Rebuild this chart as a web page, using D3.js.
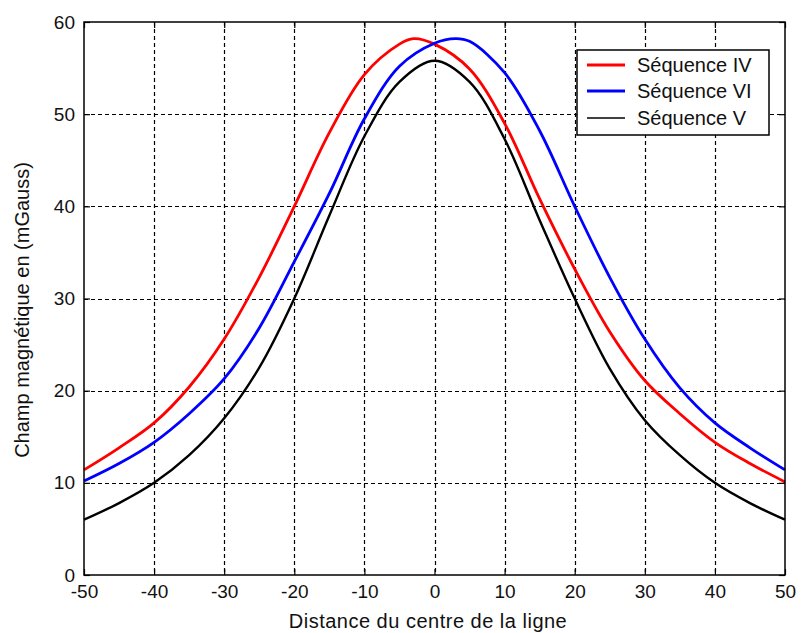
<!DOCTYPE html>
<html>
<head>
<meta charset="utf-8">
<script src="https://cdn.jsdelivr.net/npm/d3@7"></script>
<style>
  html, body { margin: 0; padding: 0; background: #fff; }
  svg { display: block; font-family: Arial, "Liberation Sans", sans-serif; }
</style>
</head>
<body>
<svg id="chart" width="801" height="633"></svg>
<script>
// Magnetic field profiles across the line, three sequences (mGauss vs distance)
const distIV = [-50, -45, -40, -35, -30, -25, -20, -15, -10, -5, -3, 0, 5, 10, 15, 20, 25, 30, 35, 40, 45, 50];
const seqIV  = [11.4, 13.8, 16.5, 20.4, 25.6, 32.3, 40.0, 48.0, 54.3, 57.6, 58.2, 57.6, 54.9, 49.0, 40.8, 33.2, 26.4, 21.1, 17.5, 14.4, 12.1, 10.1];

const distVI = [-50, -45, -40, -35, -30, -25, -20, -15, -10, -5, 0, 3, 5, 10, 15, 20, 25, 30, 35, 40, 45, 50];
const seqVI  = [10.2, 12.1, 14.4, 17.5, 21.3, 26.8, 34.0, 41.4, 49.5, 55.2, 57.7, 58.2, 57.9, 54.5, 48.2, 40.0, 32.3, 25.6, 20.3, 16.5, 13.8, 11.4];

const distV = [-50, -45, -40, -35, -30, -25, -20, -15, -10, -5, 0, 5, 10, 15, 20, 25, 30, 35, 40, 45, 50];
const seqV  = [6.0, 7.8, 10.0, 13.0, 17.0, 22.5, 30.0, 39.0, 47.6, 53.5, 55.8, 53.5, 47.3, 38.5, 30.0, 22.4, 16.8, 13.0, 10.0, 7.8, 6.0];

const xTicks = [-50, -40, -30, -20, -10, 0, 10, 20, 30, 40, 50];
const yTicks = [0, 10, 20, 30, 40, 50, 60];

const seriesNames  = ["Séquence IV", "Séquence VI", "Séquence V"];
const seriesColors = ["#ff0000", "#0000ff", "#000000"];

const xLabel = "Distance du centre de la ligne";
const yLabel = "Champ magnétique en (mGauss)";

const svg = d3.select("#chart");
const plot = { left: 84, right: 785, top: 22, bottom: 575 };

const x = d3.scaleLinear().domain([-50, 50]).range([plot.left, plot.right]);
const y = d3.scaleLinear().domain([0, 60]).range([plot.bottom, plot.top]);

// dashed grid
const grid = svg.append("g");
grid.selectAll("line.gx").data(xTicks.slice(1, -1)).enter().append("line")
  .attr("x1", d => Math.round(x(d)) + 0.5).attr("x2", d => Math.round(x(d)) + 0.5)
  .attr("y1", plot.top).attr("y2", plot.bottom)
  .attr("stroke", "#000").attr("stroke-width", 1.2).attr("stroke-dasharray", "4,3");
grid.selectAll("line.gy").data(yTicks.slice(1, -1)).enter().append("line")
  .attr("y1", d => Math.round(y(d)) + 0.5).attr("y2", d => Math.round(y(d)) + 0.5)
  .attr("x1", plot.left).attr("x2", plot.right)
  .attr("stroke", "#000").attr("stroke-width", 1.2).attr("stroke-dasharray", "4,3");

// curves
const data = [
  distIV.map((d, i) => [d, seqIV[i]]),
  distVI.map((d, i) => [d, seqVI[i]]),
  distV.map((d, i) => [d, seqV[i]])
];
const widths = [2.8, 2.8, 2.4];
const line = d3.line().x(d => x(d[0])).y(d => y(d[1])).curve(d3.curveCatmullRom.alpha(0.5));
svg.append("g").selectAll("path").data(data).enter().append("path")
  .attr("d", line).attr("fill", "none")
  .attr("stroke", (d, i) => seriesColors[i])
  .attr("stroke-width", (d, i) => widths[i])
  .attr("stroke-linejoin", "round");

// axes with inward ticks, mirrored on top and right
const tickLen = 6;
const fmt = d => String(d);
const axB = d3.axisBottom(x).tickValues(xTicks).tickFormat(fmt).tickSizeInner(-tickLen).tickSizeOuter(0).tickPadding(10);
const axL = d3.axisLeft(y).tickValues(yTicks).tickFormat(fmt).tickSizeInner(-tickLen).tickSizeOuter(0).tickPadding(9);
const axT = d3.axisTop(x).tickValues(xTicks).tickSizeInner(-tickLen).tickSizeOuter(0).tickFormat("");
const axR = d3.axisRight(y).tickValues(yTicks).tickSizeInner(-tickLen).tickSizeOuter(0).tickFormat("");

function styleAxis(g) {
  g.select(".domain").remove();
  g.selectAll("line").attr("stroke", "#000").attr("stroke-width", 1.2);
  g.selectAll("text").attr("fill", "#111").style("font-size", "19px");
}
svg.append("g").attr("transform", `translate(0,${plot.bottom})`).call(axB).call(styleAxis);
svg.append("g").attr("transform", `translate(${plot.left},0)`).call(axL).call(styleAxis);
svg.append("g").attr("transform", `translate(0,${plot.top})`).call(axT).call(styleAxis);
svg.append("g").attr("transform", `translate(${plot.right},0)`).call(axR).call(styleAxis);

// frame
svg.append("rect")
  .attr("x", plot.left).attr("y", plot.top)
  .attr("width", plot.right - plot.left).attr("height", plot.bottom - plot.top)
  .attr("fill", "none").attr("stroke", "#000").attr("stroke-width", 1.5);

// axis titles
svg.append("text").attr("x", 428).attr("y", 628)
  .attr("text-anchor", "middle").attr("fill", "#111")
  .style("font-size", "20px").style("letter-spacing", "0.5px").text(xLabel);
svg.append("text").attr("transform", `translate(22,310) rotate(-90)`)
  .attr("text-anchor", "middle").attr("dy", "0.35em").attr("fill", "#111")
  .style("font-size", "20px").text(yLabel);

// legend
const lg = svg.append("g");
lg.append("rect").attr("x", 577).attr("y", 50).attr("width", 192).attr("height", 85)
  .attr("fill", "#fff").attr("stroke", "#000").attr("stroke-width", 1.5);
const legY = [65, 91, 118];
const legW = [3.2, 3.2, 1.5];
seriesNames.forEach((name, i) => {
  lg.append("line").attr("x1", 587).attr("x2", 625).attr("y1", legY[i]).attr("y2", legY[i])
    .attr("stroke", seriesColors[i]).attr("stroke-width", legW[i]);
  lg.append("text").attr("x", 637).attr("y", legY[i] + 7).attr("fill", "#111")
    .style("font-size", "20px").text(name);
});
</script>
</body>
</html>
